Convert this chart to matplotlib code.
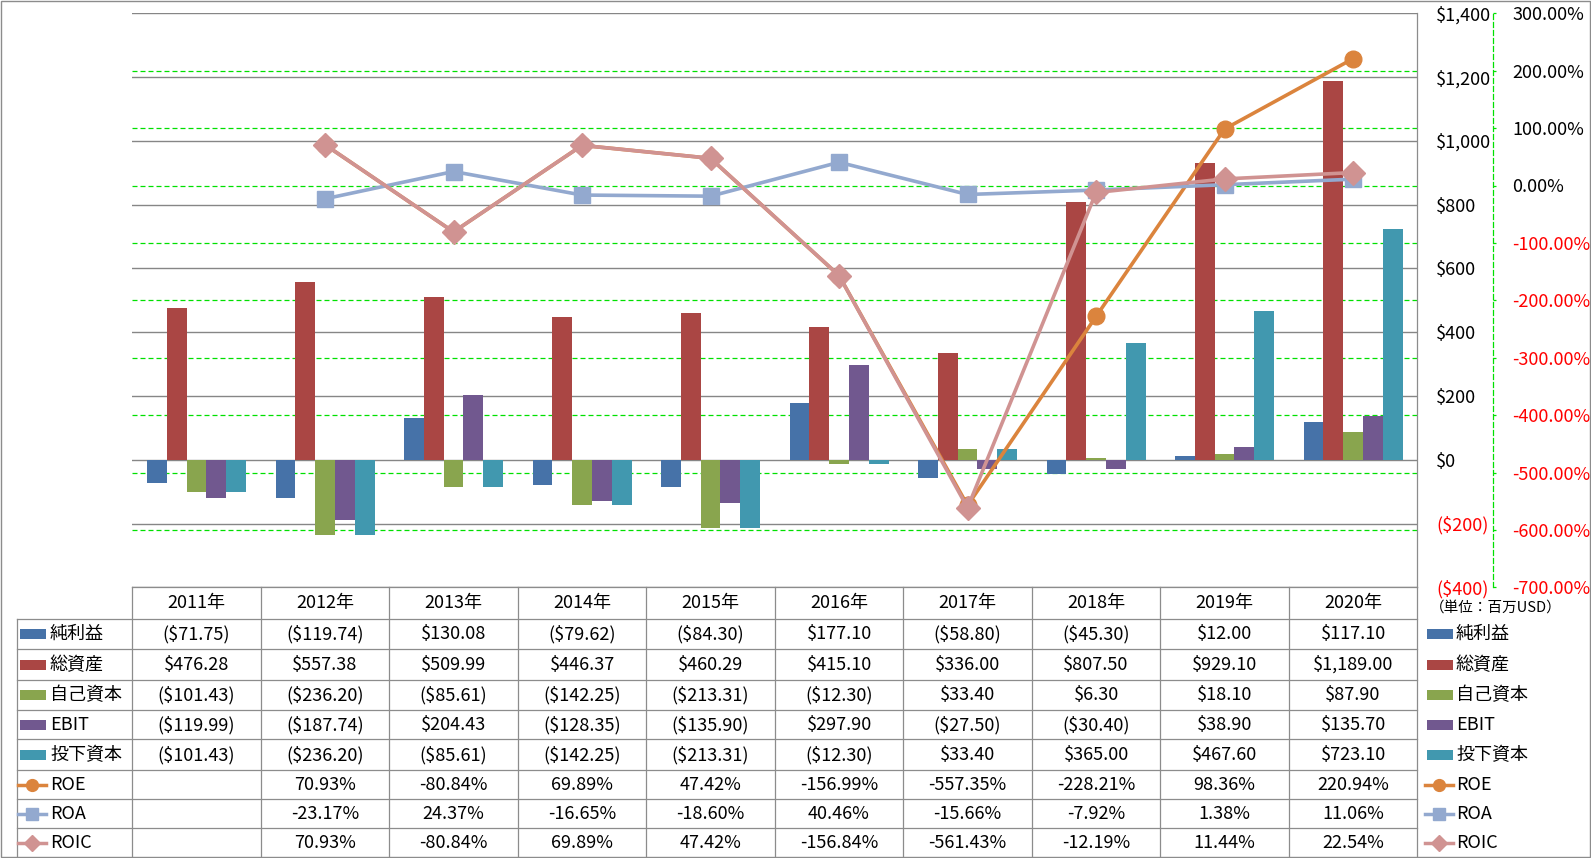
import numpy as np
import matplotlib
matplotlib.use('Agg')
import matplotlib.pyplot as plt
from matplotlib.patches import Rectangle
from matplotlib.transforms import blended_transform_factory

plt.rcParams['font.family'] = ['Noto Sans CJK JP', 'DejaVu Sans']

# ---- data (百万USD / %) ----
years = ['2011年', '2012年', '2013年', '2014年', '2015年',
         '2016年', '2017年', '2018年', '2019年', '2020年']
net_income = [-71.75, -119.74, 130.08, -79.62, -84.30, 177.10, -58.80, -45.30, 12.00, 117.10]
total_assets = [476.28, 557.38, 509.99, 446.37, 460.29, 415.10, 336.00, 807.50, 929.10, 1189.00]
equity = [-101.43, -236.20, -85.61, -142.25, -213.31, -12.30, 33.40, 6.30, 18.10, 87.90]
ebit = [-119.99, -187.74, 204.43, -128.35, -135.90, 297.90, -27.50, -30.40, 38.90, 135.70]
invested = [-101.43, -236.20, -85.61, -142.25, -213.31, -12.30, 33.40, 365.00, 467.60, 723.10]
nan = np.nan
roe = [nan, 70.93, -80.84, 69.89, 47.42, -156.99, -557.35, -228.21, 98.36, 220.94]
roa = [nan, -23.17, 24.37, -16.65, -18.60, 40.46, -15.66, -7.92, 1.38, 11.06]
roic = [nan, 70.93, -80.84, 69.89, 47.42, -156.84, -561.43, -12.19, 11.44, 22.54]

usd_ticks = np.arange(-400, 1401, 200)
pct_ticks = np.arange(-700, 301, 100)

bar_series = [('純利益', net_income, '#4672A8'),
              ('総資産', total_assets, '#AA4644'),
              ('自己資本', equity, '#89A54E'),
              ('EBIT', ebit, '#71588F'),
              ('投下資本', invested, '#4198AF')]
line_series = [('ROE', roe, '#DB843D', 'o'),
               ('ROA', roa, '#93A9CF', 's'),
               ('ROIC', roic, '#D09392', 'D')]

# ---- layout in pixels ----
W, H = 1591, 858
PL, PR, PT, PB = 132.3, 1417.3, 13.3, 587.3
PX = 0.72  # points per pixel at dpi 100
FS = 13
GRID = '#868686'
GREEN = '#00E000'


def fmt_usd(v, dec=0):
    s = '${:,.{d}f}'.format(abs(v), d=dec)
    return '(' + s + ')' if v < 0 else s


fig = plt.figure(figsize=(W / 100, H / 100), dpi=100)
ax = fig.add_axes([PL / W, 1 - PB / H, (PR - PL) / W, (PB - PT) / H])

x = np.arange(len(years))
bw = 0.154
for i, (name, vals, col) in enumerate(bar_series):
    ax.bar(x + (i - 2) * bw, vals, width=bw, color=col, zorder=2)

ax.set_xlim(-0.5, len(years) - 0.5)
ax.set_ylim(usd_ticks[0], usd_ticks[-1])
ax.tick_params(axis='x', bottom=False, labelbottom=False)
for s in ax.spines.values():
    s.set_visible(False)
ax.grid(axis='y', color=GRID, lw=1.0)
ax.set_axisbelow(True)

ax2 = ax.twinx()

# $ axis on the right (after twinx, which resets it to the left)
ax.set_yticks(usd_ticks)
ax.set_yticklabels([fmt_usd(v) for v in usd_ticks])
ax.yaxis.tick_right()
ax.tick_params(axis='y', length=0, pad=19 * PX, labelsize=FS)
for tk, v in zip(ax.yaxis.get_major_ticks(), usd_ticks):
    tk.label2.set_color('red' if v < 0 else 'black')

ax2.set_ylim(pct_ticks[0], pct_ticks[-1])
ax2.set_yticks(pct_ticks)
ax2.set_yticklabels(['{:.2f}%'.format(t) for t in pct_ticks])
for s in ax2.spines.values():
    s.set_visible(False)
sp = ax2.spines['right']
sp.set_visible(True)
sp.set_position(('outward', 76 * PX))
sp.set_color(GREEN)
sp.set_linestyle((0, (4, 2.4)))
sp.set_linewidth(0.9)
ax2.tick_params(axis='y', direction='out', length=3 * PX, width=0.9,
                color=GREEN, pad=16 * PX, labelsize=FS)
for tk, v in zip(ax2.yaxis.get_major_ticks(), pct_ticks):
    tk.label1.set_color('red' if v < 0 else 'black')
    tk.label2.set_color('red' if v < 0 else 'black')

# green % gridlines, drawn under the bars
trans = blended_transform_factory(ax.transAxes, ax2.transData)
for t in pct_ticks[1:-1]:
    ax.plot([0, 1], [t, t], transform=trans, color=GREEN, lw=0.9,
            ls=(0, (4, 2.4)), zorder=1)

for name, vals, col, mk in line_series:
    ax2.plot(x, vals, color=col, lw=2.6, marker=mk, ms=12, mec=col, mfc=col)

# ---- data table + legend ----
ov = fig.add_axes([0, 0, 1, 1], zorder=5)
ov.set_xlim(0, W)
ov.set_ylim(H, 0)
ov.axis('off')

col_edges = np.linspace(PL, PR, len(years) + 1)
row_edges = [587.3, 619, 649, 680.3, 710.3, 739.3, 770.3, 799.3, 828.3, 856.7]
LC = '#8c8c8c'
ov.plot([PL, PR], [row_edges[0]] * 2, color=LC, lw=0.9)
for y in row_edges[1:-1]:
    ov.plot([16.7, PR], [y, y], color=LC, lw=0.9)
for xe in col_edges:
    ov.plot([xe, xe], [row_edges[0], row_edges[-1]], color=LC, lw=0.9)
ov.plot([PR, PR], [PT, PB], color=LC, lw=0.9)
ov.plot([16.7, 16.7], [row_edges[1], row_edges[-1]], color=LC, lw=0.9)
ov.add_patch(Rectangle((1, 1), W - 2, row_edges[-1] - 1, fill=False, ec=LC, lw=1.0))

centers = (col_edges[:-1] + col_edges[1:]) / 2
rc = [(row_edges[i] + row_edges[i + 1]) / 2 for i in range(len(row_edges) - 1)]
for cx, yr in zip(centers, years):
    ov.text(cx, rc[0], yr, ha='center', va='center', fontsize=FS)

rows = [(n, [fmt_usd(v, 2) for v in vals], c, None) for n, vals, c in bar_series]
rows += [(n, ['' if np.isnan(v) else '{:.2f}%'.format(v) for v in vals], c, m)
         for n, vals, c, m in line_series]

for r, (name, cells, col, mk) in enumerate(rows):
    yc = rc[r + 1]
    for cx, s in zip(centers, cells):
        ov.text(cx, yc, s, ha='center', va='center', fontsize=FS)
    for kx, tx in ((20, 50), (1427, 1456)):
        if mk is None:
            ov.add_patch(Rectangle((kx, yc - 5), 26, 10, color=col, lw=0))
        else:
            ov.plot([kx - 2, kx + 26], [yc, yc], color=col, lw=2.5)
            ov.plot([kx + 12], [yc], marker=mk, ms=8.5, color=col)
        ov.text(tx, yc, name, ha='left', va='center', fontsize=FS)

ov.text(1430, 608, '（単位：百万USD）', ha='left', va='center', fontsize=10.5)

fig.savefig('out.png', dpi=100)
